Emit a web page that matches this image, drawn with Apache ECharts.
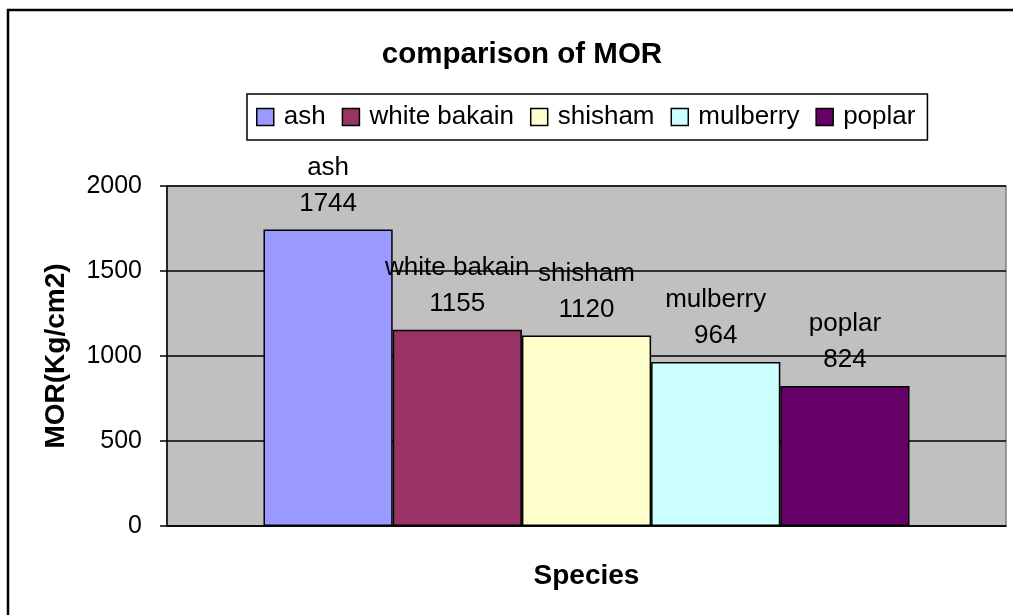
<!DOCTYPE html>
<html>
<head>
<meta charset="utf-8">
<script src="https://cdn.jsdelivr.net/npm/echarts@6/dist/echarts.min.js"></script>
<style>
	html, body { margin: 0; padding: 0; background: #fff; }
	#morChart { width: 1013px; height: 615px; }
</style>
</head>
<body>
<div id="morChart"></div>
<script>
// 데이터
const species = ['ash', 'white bakain', 'shisham', 'mulberry', 'poplar'];
const morValues = [1744, 1155, 1120, 964, 824];
const barColors = ['#9999FF', '#993366', '#FFFFCC', '#CCFFFF', '#660066'];
const yTicks = { min: 0, max: 2000, interval: 500 };

const FONT = "'Liberation Sans', Arial, sans-serif";

const chartDom = document.getElementById('morChart');
const morChart = echarts.init(chartDom, null, { renderer: 'canvas' });

const series = species.map((name, i) => ({
	name: name,
	type: 'bar',
	data: [morValues[i]],
	barGap: '0%',
	barCategoryGap: '23%',
	itemStyle: {
		color: barColors[i],
		borderColor: '#000',
		borderWidth: 1.5
	},
	label: {
		show: true,
		position: 'top',
		distance: 8,
		formatter: '{a}\n{c}',
		fontFamily: FONT,
		fontSize: 26,
		lineHeight: 36,
		color: '#000'
	}
}));

const option = {
	animation: false,
	backgroundColor: '#fff',
	graphic: [
		{
			type: 'rect',
			z: -10,
			shape: { x: 8, y: 10, width: 1030, height: 640 },
			style: { fill: 'none', stroke: '#000', lineWidth: 2.5 }
		}
	],
	title: {
		text: 'comparison of MOR',
		left: 517,
		top: 35,
		textAlign: 'center',
		textStyle: {
			fontFamily: FONT,
			fontSize: 29.5,
			fontWeight: 'bold',
			color: '#000'
		}
	},
	legend: {
		left: 247,
		top: 94,
		orient: 'horizontal',
		backgroundColor: '#fff',
		borderColor: '#000',
		borderWidth: 1.5,
		borderRadius: 0,
		padding: [10, 12, 10, 9],
		itemGap: 16,
		itemWidth: 17,
		itemHeight: 17,
		icon: 'rect',
		itemStyle: { borderColor: '#000', borderWidth: 1.5 },
		textStyle: {
			fontFamily: FONT,
			fontSize: 26,
			color: '#000',
			padding: [0, 0, 0, 5]
		},
		data: species
	},
	grid: {
		left: 167,
		right: 7,
		top: 186,
		bottom: 89,
		show: true,
		backgroundColor: '#C0C0C0',
		borderColor: '#808080',
		borderWidth: 1.5
	},
	xAxis: {
		type: 'category',
		data: [''],
		name: 'Species',
		nameLocation: 'middle',
		nameGap: 36,
		nameTextStyle: {
			fontFamily: FONT,
			fontSize: 28,
			fontWeight: 'bold',
			color: '#000'
		},
		axisLine: { lineStyle: { color: '#000', width: 1.5 } },
		axisTick: { show: false },
		axisLabel: { show: false }
	},
	yAxis: {
		type: 'value',
		min: yTicks.min,
		max: yTicks.max,
		interval: yTicks.interval,
		name: 'MOR(Kg/cm2)',
		nameLocation: 'middle',
		nameGap: 97,
		nameTextStyle: {
			fontFamily: FONT,
			fontSize: 28,
			fontWeight: 'bold',
			color: '#000'
		},
		axisLine: { show: true, lineStyle: { color: '#000', width: 1.5 } },
		axisTick: { show: true, length: 7, lineStyle: { color: '#000', width: 1.5 } },
		axisLabel: {
			margin: 25,
			fontFamily: FONT,
			fontSize: 25,
			color: '#000',
			formatter: (v) => String(v) // 쉼표 없이
		},
		splitLine: { show: true, lineStyle: { color: '#000', width: 1.5 } }
	},
	series: series
};

morChart.setOption(option);
</script>
</body>
</html>
